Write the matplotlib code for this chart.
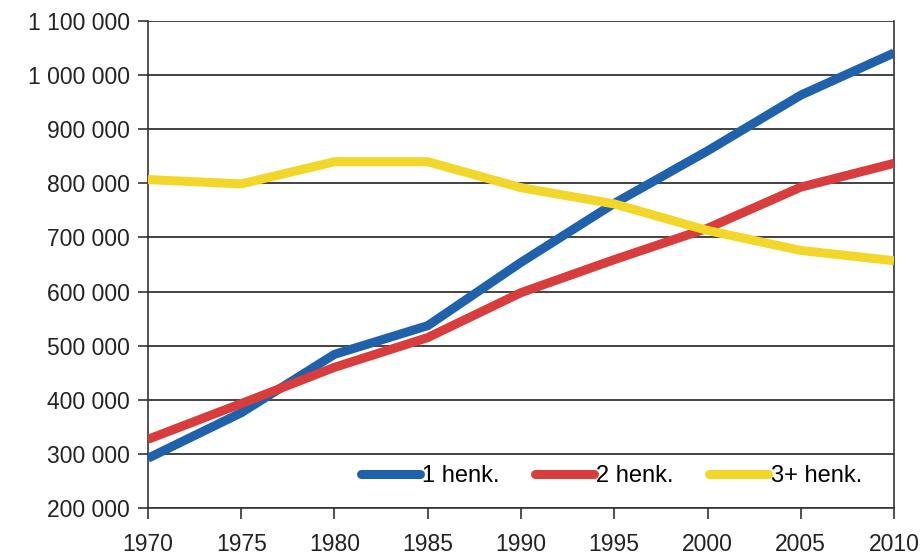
import numpy as np
import matplotlib.pyplot as plt
from matplotlib.ticker import FuncFormatter

plt.rcParams['font.family'] = ['Liberation Sans', 'DejaVu Sans']

# Data
years = [1970, 1975, 1980, 1985, 1990, 1995, 2000, 2005, 2010]
one_person = [292000, 376000, 484000, 537000, 654000, 763000, 860000, 963000, 1041000]
two_person = [327000, 393000, 460000, 515000, 598000, 659000, 717000, 793000, 837000]
three_plus = [807000, 799000, 840000, 840000, 792000, 762000, 713000, 676000, 657000]
labels = ['1 henk.', '2 henk.', '3+ henk.']
colors = ['#1f62ab', '#d83c3c', '#f2d72a']

fig = plt.figure(figsize=(9.23, 5.59), dpi=100)
ax = fig.add_axes([0.1603, 0.0912, 0.9686 - 0.1603, 0.9624 - 0.0912])

for vals, lab, col in zip([one_person, two_person, three_plus], labels, colors):
    ax.plot(years, vals, color=col, linewidth=6.5, label=lab,
            solid_capstyle='butt', solid_joinstyle='round', zorder=3)

ax.set_xlim(1970, 2010)
ax.set_ylim(200000, 1100000)
ax.set_xticks(years)
ax.set_yticks(np.arange(200000, 1100001, 100000))
ax.yaxis.set_major_formatter(FuncFormatter(lambda v, p: f'{int(v):,}'.replace(',', ' ')))

# Gitterlinien
ax.grid(axis='y', color='#222222', linewidth=1.2, zorder=1)
ax.grid(axis='x', visible=False)

for s in ['left', 'bottom', 'right']:
    ax.spines[s].set_color('#333333')
    ax.spines[s].set_linewidth(1.2)
ax.spines['top'].set_visible(False)

ax.tick_params(axis='both', direction='out', color='#333333', width=1.2,
               labelsize=16.5, labelcolor='#222222')
ax.tick_params(axis='y', length=7, pad=6)
ax.tick_params(axis='x', length=8, pad=10)

# Legende unten rechts im Diagramm
leg = ax.legend(loc='center right', bbox_to_anchor=(862 / 923, 1 - 476 / 559),
                bbox_transform=fig.transFigure, ncol=3, frameon=False,
                fontsize=17, handlelength=2.5, handletextpad=0.1, columnspacing=1.5,
                borderpad=0, borderaxespad=0)
for h in leg.get_lines():
    h.set_solid_capstyle('round')

plt.savefig('out.png', dpi=100)
